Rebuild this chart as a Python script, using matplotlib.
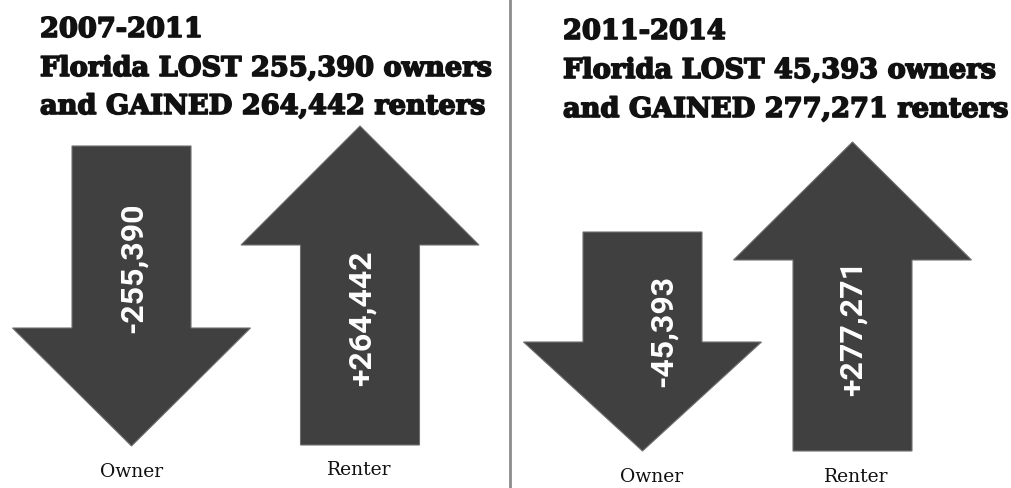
import matplotlib.pyplot as plt
import matplotlib.patheffects as pe

# data
periods = ['2007-2011', '2011-2014']
owner_change = [-255390, -45393]
renter_change = [264442, 277271]
categories = ['Owner', 'Renter']

# layout (pixel coords, y down)
arrow_x = [[131.5, 360.0], [642.5, 852.5]]
arrow_from = [[147, 446], [233, 452]]
arrow_to = [[447, 127], [452, 143]]
head_len = [[118, 119], [109, 118]]
text_pos = [[(133, 268), (362, 318)], [(663, 331), (853, 328)]]
cat_pos = [[(132, 472), (359, 470)], [(652, 477), (856, 477)]]
title_x = [40, 563]
title_y = [[38, 77, 115], [40, 79, 118]]

COL = '#404040'
heavy = [pe.withStroke(linewidth=1.2, foreground='#111111')]

fig = plt.figure(figsize=(10.11, 4.89), dpi=100)
ax = fig.add_axes([0, 0, 1, 1])
ax.set_xlim(0, 1011)
ax.set_ylim(489, 0)
ax.axis('off')

ax.plot([510, 510], [0, 489], color='#8c8c8c', lw=2)

for p in range(2):
    lines = [periods[p],
             f'Florida LOST {abs(owner_change[p]):,} owners',
             f'and GAINED {renter_change[p]:,} renters']
    for i, s in enumerate(lines):
        ax.text(title_x[p], title_y[p][i], s, fontsize=19.6, fontweight='bold',
                family='DejaVu Serif', va='baseline', ha='left', color='#111111',
                path_effects=heavy)

    vals = [owner_change[p], renter_change[p]]
    for k in range(2):
        y0 = arrow_from[p][k]
        y1 = arrow_to[p][k]
        ax.arrow(arrow_x[p][k], y0, 0, y1 - y0, width=119, head_width=238,
                 head_length=head_len[p][k], length_includes_head=True,
                 facecolor=COL, edgecolor='#707070', linewidth=0.8)
        tx, ty = text_pos[p][k]
        ax.text(tx, ty, f'{vals[k]:+,}', rotation=90, color='white',
                fontsize=23, fontweight='bold', family='Roboto',
                ha='center', va='center')
        cx, cy = cat_pos[p][k]
        ax.text(cx, cy, categories[k], fontsize=13.5, family='DejaVu Serif',
                ha='center', va='center', color='#111111')

fig.savefig('out.png', dpi=100)
